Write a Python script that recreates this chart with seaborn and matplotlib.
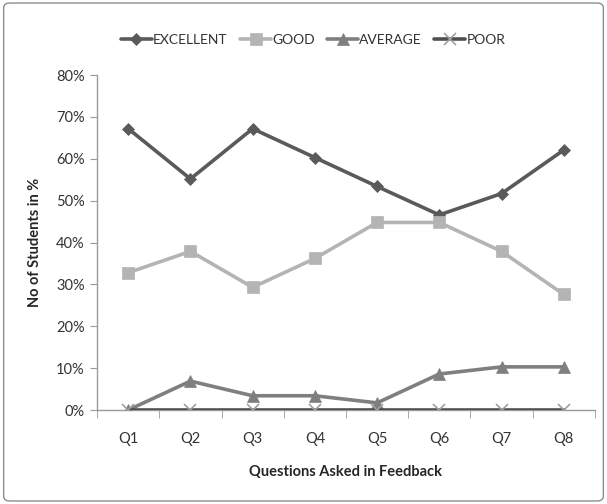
import numpy as np
import pandas as pd
import matplotlib
matplotlib.use("Agg")
import matplotlib.pyplot as plt
import seaborn as sns
from matplotlib.patches import FancyBboxPatch
from matplotlib.ticker import PercentFormatter

# Dados
questions = ['Q1', 'Q2', 'Q3', 'Q4', 'Q5', 'Q6', 'Q7', 'Q8']
excellent = [67.2, 55.2, 67.2, 60.3, 53.4, 46.6, 51.7, 62.1]
good = [32.8, 37.9, 29.3, 36.2, 44.8, 44.8, 37.9, 27.6]
average = [0.0, 6.9, 3.4, 3.4, 1.7, 8.6, 10.3, 10.3]
poor = [0, 0, 0, 0, 0, 0, 0, 0]

series = ['EXCELLENT', 'GOOD', 'AVERAGE', 'POOR']

df = pd.DataFrame({'pergunta': questions * 4,
                   'valor': np.array(excellent + good + average + poor) / 100,
                   'serie': np.repeat(series, len(questions))})
df['x'] = np.tile(np.arange(len(questions)), 4)

sns.set_style('white')
plt.rcParams['font.family'] = ['Lato', 'DejaVu Sans']

fig = plt.figure(figsize=(6.07, 5.04), dpi=100)
ax = fig.add_axes([0.160, 0.1865, 0.820, 0.6645])

# moldura externa
fig.patches.append(FancyBboxPatch((0.006, 0.006), 0.988, 0.988, boxstyle='round,pad=0,rounding_size=0.01',
                                  transform=fig.transFigure, fill=False, edgecolor='#8c8c8c', linewidth=1))

estilos = {
    'EXCELLENT': dict(color='#5a5a5a', marker='D', markersize=6.5, mec='#5a5a5a', mfc='#5a5a5a'),
    'GOOD': dict(color='#b4b4b4', marker='s', markersize=8, mec='#b4b4b4', mfc='#b4b4b4'),
    'AVERAGE': dict(color='#7f7f7f', marker='^', markersize=8, mec='#7f7f7f', mfc='#7f7f7f'),
    'POOR': dict(color='#4f4f4f', marker='x', markersize=9, mec='#a0a0a0', mfc='#a0a0a0', mew=1.2),
}

handles = []
for s in series:
    sub = df[df['serie'] == s]
    st = estilos[s]
    sns.lineplot(data=sub, x='x', y='valor', ax=ax, color=st['color'], linewidth=2.6,
                 marker=st['marker'], markersize=st['markersize'],
                 markeredgecolor=st['mec'], markerfacecolor=st['mfc'],
                 markeredgewidth=st.get('mew', 0.5), label=s, legend=False, zorder=3)
    handles.append(ax.lines[-1])

ax.set_xlim(-0.5, 7.5)
ax.set_ylim(0, 0.8)
ax.set_yticks(np.arange(0, 0.81, 0.1))
ax.yaxis.set_major_formatter(PercentFormatter(1.0, decimals=0))
ax.set_xticks(np.arange(len(questions)))
ax.set_xticklabels(questions)
ax.set_xticks(np.arange(-0.5, 7.6, 1), minor=True)

for sp in ['top', 'right']:
    ax.spines[sp].set_visible(False)
for sp in ['left', 'bottom']:
    ax.spines[sp].set_color('#9a9a9a')
    ax.spines[sp].set_linewidth(1)

ax.tick_params(axis='y', which='major', left=True, length=5, color='#9a9a9a',
               labelsize=10.5, labelcolor='#333333', pad=4)
ax.tick_params(axis='x', which='major', bottom=False, labelsize=10.5, labelcolor='#333333', pad=12)
ax.tick_params(axis='x', which='minor', bottom=True, length=6, color='#9a9a9a')

ax.set_xlabel('Questions Asked in Feedback', fontsize=10.5, fontweight='bold', labelpad=14)
ax.set_ylabel('No of Students in %', fontsize=10.5, fontweight='bold', labelpad=10)

fig.legend(handles=handles, labels=series, loc='center', bbox_to_anchor=(0.516, 0.921),
           ncol=4, frameon=False, fontsize=10, handlelength=2.2, columnspacing=0.9,
           handletextpad=0.1, labelcolor='#333333')

fig.savefig('out.png', dpi=100)
